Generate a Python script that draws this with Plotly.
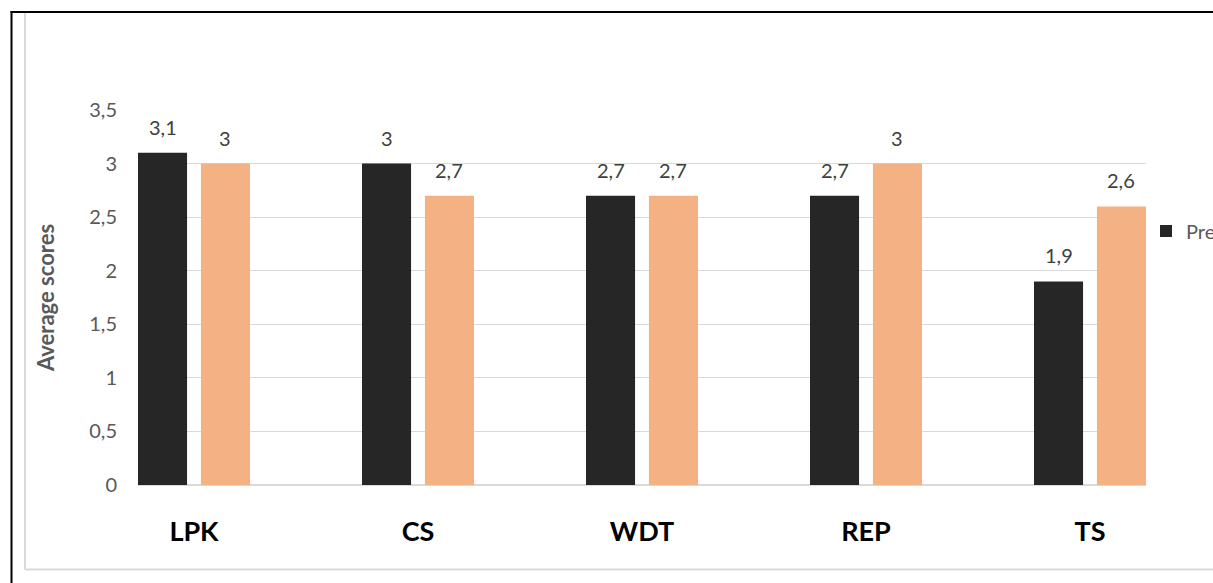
import plotly.graph_objects as go

# Average scores per skill, before and after the intervention
categories = ["LPK", "CS", "WDT", "REP", "TS"]
pre_scores = [3.1, 3.0, 2.7, 2.7, 1.9]
post_scores = [3.0, 2.7, 2.7, 3.0, 2.6]
series_names = ["Pre-test", "Post-test"]
y_ticks = [0, 0.5, 1, 1.5, 2, 2.5, 3, 3.5]

W, H = 1213, 583
ML, MR, MT, MB = 138, 67, 110, 98
PW, PH = W - ML - MR, H - MT - MB

DARK = "#262626"
ORANGE = "#F4B183"
GRID = "#D9D9D9"
FONT = "Lato"

BAR_W = 0.219
positions = list(range(len(categories)))


def fmt(v):
    return f"{v:g}".replace(".", ",")


def px_x(px):
    return (px - ML) / PW


def px_y(py):
    return (H - MB - py) / PH


fig = go.Figure()
fig.add_trace(go.Bar(x=positions, y=pre_scores, name=series_names[0],
                     marker=dict(color=DARK, line=dict(width=0)),
                     width=BAR_W, offset=-0.25))
fig.add_trace(go.Bar(x=positions, y=post_scores, name=series_names[1],
                     marker=dict(color=ORANGE, line=dict(width=0)),
                     width=BAR_W, offset=0.031))

# value labels above each bar
annotations = []
for i, (a, b) in enumerate(zip(pre_scores, post_scores)):
    for val, off in ((a, -0.25), (b, 0.031)):
        annotations.append(dict(
            x=i + off + BAR_W / 2, y=val, xref="x", yref="y",
            text=fmt(val), showarrow=False, yanchor="bottom", yshift=12,
            font=dict(family=FONT, size=20, color="#404040")))

# chart frame lines
shapes = [
    dict(type="line", xref="paper", yref="paper", x0=px_x(25), x1=px_x(25),
         y0=px_y(13), y1=px_y(569.5), line=dict(color=GRID, width=2)),
    dict(type="line", xref="paper", yref="paper", x0=px_x(25), x1=px_x(W),
         y0=px_y(569.5), y1=px_y(569.5), line=dict(color=GRID, width=2)),
    dict(type="line", xref="paper", yref="paper", x0=px_x(11.5), x1=px_x(11.5),
         y0=px_y(11), y1=px_y(H), line=dict(color="#000000", width=2)),
    dict(type="line", xref="paper", yref="paper", x0=px_x(10.5), x1=px_x(W),
         y0=px_y(12), y1=px_y(12), line=dict(color="#000000", width=2)),
]

fig.update_layout(
    width=W, height=H,
    margin=dict(l=ML, r=MR, t=MT, b=MB, autoexpand=False),
    paper_bgcolor="white", plot_bgcolor="white",
    barmode="overlay",
    separators=", ",
    font=dict(family=FONT, color="#595959"),
    showlegend=True,
    legend=dict(orientation="h", x=1.0, xanchor="left", y=px_y(231),
                yanchor="middle", font=dict(family=FONT, size=20, color="#595959"),
                bgcolor="rgba(0,0,0,0)", traceorder="normal"),
    annotations=annotations,
    shapes=shapes,
    xaxis=dict(range=[-0.25, len(categories) - 0.75], tickmode="array",
               tickvals=positions, ticktext=categories, showgrid=False,
               zeroline=False, showline=False, ticks="",
               ticklabelstandoff=28,
               tickfont=dict(family=FONT, size=27, color="#000000", weight="bold")),
    yaxis=dict(range=[0, 3.5], tickmode="array", tickvals=y_ticks,
               showgrid=True, gridcolor=GRID, gridwidth=1,
               zeroline=True, zerolinecolor=GRID, zerolinewidth=2,
               ticks="", ticklabelstandoff=20,
               tickfont=dict(family=FONT, size=20, color="#595959"),
               title=dict(text="Average scores", standoff=28,
                          font=dict(family=FONT, size=22, color="#595959",
                                    weight="bold"))),
)

fig.write_html("out.html")
